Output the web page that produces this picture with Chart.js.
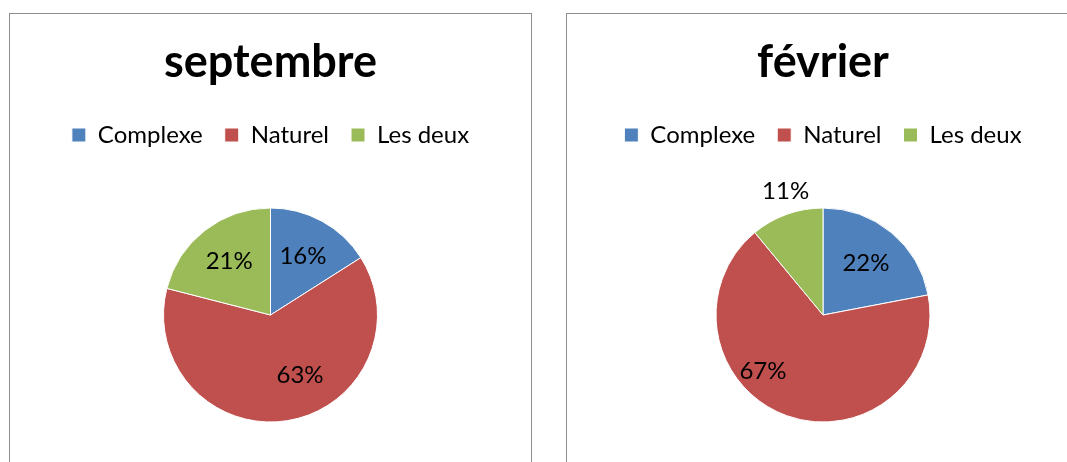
<!DOCTYPE html>
<html>
<head>
<meta charset="utf-8">
<script src="https://cdn.jsdelivr.net/npm/chart.js@4.4.0/dist/chart.umd.min.js"></script>
<style>
  html, body { margin: 0; padding: 0; background: #fff; overflow: hidden; }
  body { width: 1067px; height: 462px; position: relative; }
  .box { position: absolute; top: 13px; height: 520px; border: 1.5px solid #8e8e8e; background: #fff; }
  #boxA { left: 9px; width: 521px; }
  #boxB { left: 566px; width: 520px; }
  .box canvas { position: absolute; left: 0; top: 0; }
</style>
</head>
<body>
<div class="box" id="boxA"><canvas id="chartA" width="521" height="500"></canvas></div>
<div class="box" id="boxB"><canvas id="chartB" width="512" height="500"></canvas></div>
<script>
const categories = ['Complexe', 'Naturel', 'Les deux'];
const septembreValues = [16, 63, 21];
const fevrierValues = [22, 67, 11];
const titles = ['septembre', 'février'];
const colors = ['#4F81BD', '#C0504D', '#9BBB59'];

// percentage labels drawn on the slices, Excel "best fit" style
const pieLabels = {
    id: 'pieLabels',
    afterDatasetsDraw(chart, args, opts) {
        const ctx = chart.ctx;
        const meta = chart.getDatasetMeta(0);
        const values = chart.data.datasets[0].data;
        const total = values.reduce((a, b) => a + b, 0);
        ctx.save();
        ctx.font = '24px Lato';
        ctx.fillStyle = '#000';
        ctx.textAlign = 'center';
        ctx.textBaseline = 'middle';
        meta.data.forEach((arc, i) => {
            const p = arc.getProps(['x', 'y', 'startAngle', 'endAngle', 'outerRadius'], true);
            const tweak = (opts.tweaks && opts.tweaks[i]) || {};
            const mid = (p.startAngle + p.endAngle) / 2 + (tweak.shift || 0) * Math.PI / 180;
            const r = p.outerRadius * (tweak.r || 0.63);
            const txt = Math.round(values[i] / total * 100) + '%';
            ctx.fillText(txt, p.x + Math.cos(mid) * r, p.y + Math.sin(mid) * r);
        });
        ctx.restore();
    }
};

function makePie(id, title, values, tweaks) {
    return new Chart(document.getElementById(id), {
        type: 'pie',
        data: {
            labels: categories,
            datasets: [{
                data: values,
                backgroundColor: colors,
                borderColor: '#fff',
                borderWidth: 1
            }]
        },
        options: {
            responsive: false,
            animation: false,
            radius: 107,
            layout: { padding: { bottom: 41 } },
            plugins: {
                title: {
                    display: true,
                    text: title,
                    color: '#000',
                    font: { family: 'Lato', size: 45, weight: 'bold' },
                    padding: { top: 21, bottom: 12 }
                },
                legend: {
                    position: 'top',
                    labels: {
                        color: '#000',
                        font: { family: 'Lato', size: 24 },
                        boxWidth: 14,
                        boxHeight: 14,
                        padding: 22
                    }
                },
                tooltip: { enabled: false },
                pieLabels: { tweaks: tweaks }
            }
        },
        plugins: [pieLabels]
    });
}

makePie('chartA', titles[0], septembreValues, [null, { shift: -17 }, null]);
makePie('chartB', titles[1], fevrierValues, [null, { shift: 27, r: 0.77 }, { shift: 3, r: 1.21 }]);
</script>
</body>
</html>
